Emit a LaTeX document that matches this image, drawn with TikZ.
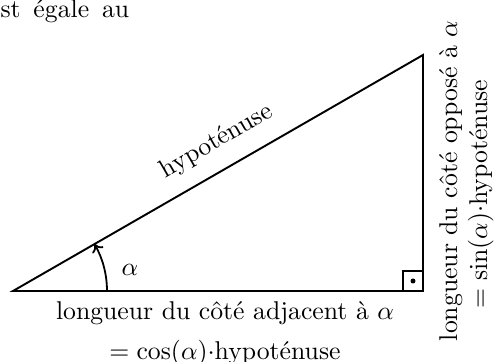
\documentclass[tikz,border=0pt]{standalone}
\usetikzlibrary{arrows.meta}
\begin{document}
\begin{tikzpicture}[x=0.389pt,y=0.389pt,
  side/.style={line width=0.75pt, line join=miter},
  lbl/.style={inner sep=0pt, font=\normalsize}]
\useasboundingbox (0,0) rectangle (495,362);
\coordinate (A) at (13,71);
\coordinate (B) at (423,71);
\coordinate (C) at (423,307);
\draw[side] (A) -- (B) -- (C) -- cycle;
\draw[line width=0.6pt] (B) ++(-20,0) -- ++(0,20) -- ++(20,0);
\fill (B) ++(-10,10) circle (2.5);
\draw[line width=0.7pt, -{To[length=3pt,width=5pt]}] ([shift={(0:94)}]A) arc (0:30:94);
\node[lbl, anchor=base] (alpha) at (130,86) {$\alpha$};
\node[lbl, anchor=base, rotate=30] (hyp) at (220,215) {hypoténuse};
\node[lbl, anchor=base] (adj1) at (225,42) {longueur du côté adjacent à $\alpha$};
\node[lbl, anchor=base] (adj2) at (225,2) {$=\cos(\alpha){\cdot}$hypoténuse};
\node[lbl, anchor=base, rotate=90] (opp1) at (457,181) {longueur du côté opposé à $\alpha$};
\node[lbl, anchor=base, rotate=90] (opp2) at (487,168) {$=\sin(\alpha){\cdot}$hypoténuse};
\node[lbl, anchor=base west] (top) at (0,344) {st\hspace{5pt}égale\hspace{5pt}au};
\end{tikzpicture}
\end{document}
